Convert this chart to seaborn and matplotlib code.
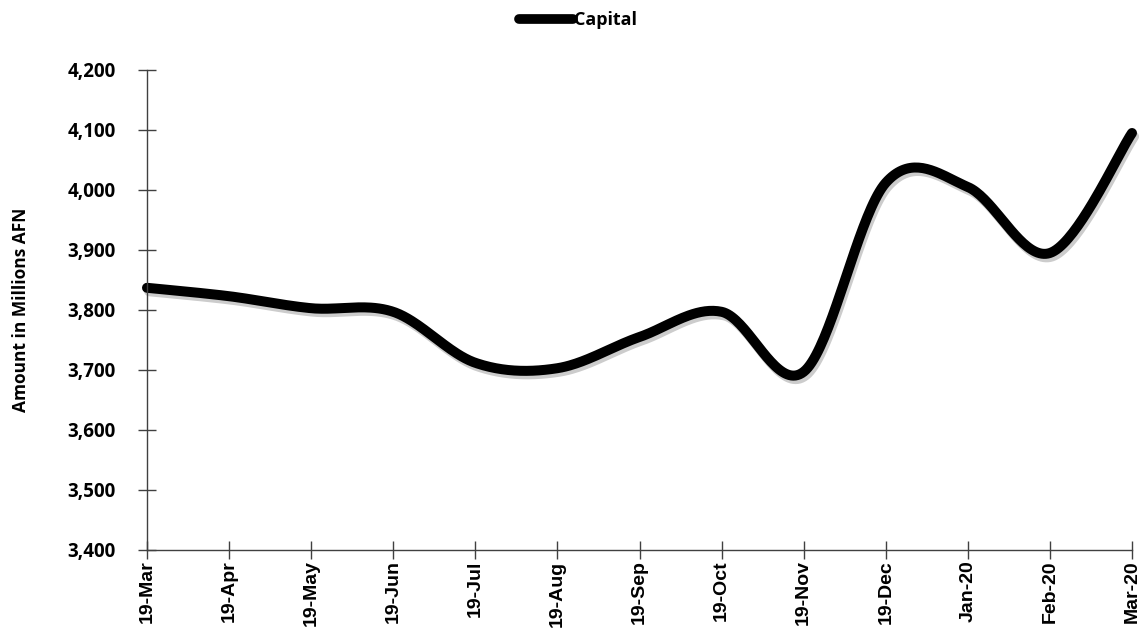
import numpy as np
import pandas as pd
import matplotlib
matplotlib.use("Agg")
import matplotlib.pyplot as plt
import matplotlib.patheffects as pe
from matplotlib.lines import Line2D
import seaborn as sns

# ---- data ----
months = ["19-Mar", "19-Apr", "19-May", "19-Jun", "19-Jul", "19-Aug", "19-Sep",
          "19-Oct", "19-Nov", "19-Dec", "Jan-20", "Feb-20", "Mar-20"]
capital = [3837, 3823, 3803, 3797, 3712, 3703, 3755, 3797, 3697, 4012, 4005, 3895, 4095]
series_name = "Capital"
y_ticks = [3400, 3500, 3600, 3700, 3800, 3900, 4000, 4100, 4200]


def excel_smooth(yv, n_seg=40):
    """Bezier smoothing similar to spreadsheet 'smoothed line'."""
    x = np.arange(len(yv), dtype=float)
    y = np.asarray(yv, dtype=float)
    P = np.column_stack([x, y])
    out = []
    n = len(P)
    for i in range(n - 1):
        p0 = P[i - 1] if i > 0 else P[i]
        p1 = P[i]
        p2 = P[i + 1]
        p3 = P[i + 2] if i + 2 < n else P[i + 1]
        c1 = p1 + (p2 - p0) / 6.0
        c2 = p2 - (p3 - p1) / 6.0
        t = np.linspace(0, 1, n_seg, endpoint=(i == n - 2))[:, None]
        b = ((1 - t) ** 3) * p1 + 3 * ((1 - t) ** 2) * t * c1 + 3 * (1 - t) * t ** 2 * c2 + t ** 3 * p2
        out.append(b)
    out = np.vstack(out)
    return out[:, 0], out[:, 1]


sx, sy = excel_smooth(capital)
df = pd.DataFrame({"x": sx, "y": sy, "series": series_name})

sns.set_theme(style="white")
plt.rcParams["font.family"] = ["Open Sans", "DejaVu Sans"]
plt.rcParams["font.weight"] = "bold"
plt.rcParams["axes.labelweight"] = "bold"
plt.rcParams["text.color"] = "black"
plt.rcParams["axes.labelcolor"] = "black"

fig = plt.figure(figsize=(11.46, 6.40), dpi=100)
ax = fig.add_axes([147 / 1146, 1 - 550 / 640, (1132 - 147) / 1146, (550 - 70) / 640])

sns.lineplot(data=df, x="x", y="y", hue="series", palette=["black"], sort=False,
             estimator=None, ax=ax, linewidth=7.2, legend=False)
line = ax.get_lines()[0]
line.set_solid_capstyle("round")
line.set_clip_on(False)
line.set_path_effects([pe.SimpleLineShadow(offset=(1.5, -2.5), shadow_color="gray", alpha=0.4),
                       pe.Normal()])

ax.set_xlim(0, len(months) - 1)
ax.set_ylim(y_ticks[0], y_ticks[-1])
ax.set_xticks(range(len(months)))
ax.set_xticklabels(months, rotation=90, fontfamily="Liberation Sans", fontweight="bold", fontsize=14)
ax.set_yticks(y_ticks)
ax.set_yticklabels([f"{v:,}" for v in y_ticks], fontweight="bold", fontsize=13.5)

ax.set_xlabel("")
ax.set_ylabel("Amount in Millions AFN", fontsize=12.5, fontweight="bold", labelpad=27, color="black")

for s in ["top", "right"]:
    ax.spines[s].set_visible(False)
for s in ["left", "bottom"]:
    ax.spines[s].set_color("#404040")
    ax.spines[s].set_linewidth(1.0)
ax.tick_params(axis="both", which="major", direction="inout", length=13, width=1.0,
               color="#404040", labelcolor="black", left=True, bottom=True)
ax.tick_params(axis="x", pad=1)
ax.tick_params(axis="y", pad=16)
ax.grid(False)

handle = Line2D([], [], color="black", linewidth=7, solid_capstyle="round")
fig.legend([handle], [series_name], loc="center", bbox_to_anchor=(578 / 1146, 1 - 20 / 640),
           frameon=False, handlelength=3.0, handletextpad=0.1,
           prop={"weight": "bold", "size": 13, "family": "Open Sans"})

fig.savefig("out.png", dpi=100)
